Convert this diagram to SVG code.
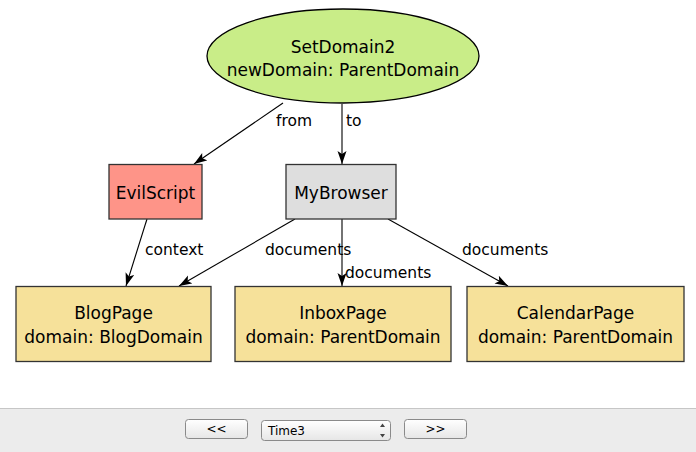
<svg xmlns="http://www.w3.org/2000/svg" width="696" height="452" viewBox="0 0 696 452">
<style>
.nt{font-family:"DejaVu Sans",sans-serif;font-size:17px;fill:#000;text-anchor:middle}
.lb{font-family:"DejaVu Sans",sans-serif;font-size:15.5px;fill:#000}
.box{stroke:#333;stroke-width:1.3}
.page{fill:#f6e19a}
.edge{stroke:#000;stroke-width:1.1;fill:none;marker-end:url(#arr)}
.btn{fill:url(#bg);stroke:#8a8a8a;stroke-width:1}
.ui{font-family:"DejaVu Sans",sans-serif;font-size:12px;fill:#000}
</style>
<defs>
<marker id="arr" markerUnits="userSpaceOnUse" markerWidth="14" markerHeight="10" refX="13" refY="4.5" orient="auto">
<path d="M0,0 L13,4.5 L0,9 L3,4.5 z" fill="#000"/>
</marker>
<linearGradient id="bg" x1="0" y1="0" x2="0" y2="1">
<stop offset="0" stop-color="#ffffff"/>
<stop offset="1" stop-color="#e6e6e6"/>
</linearGradient>
</defs>
<rect x="0" y="0" width="696" height="452" fill="#fff"/>
<g id="connectors">
<line class="edge" x1="283" y1="103" x2="194" y2="164"/>
<text class="lb" x="276" y="126">from</text>
<line class="edge" x1="342" y1="104" x2="342" y2="164"/>
<text class="lb" x="346" y="126">to</text>
<line class="edge" x1="147" y1="219" x2="126" y2="286"/>
<text class="lb" x="145" y="255">context</text>
<line class="edge" x1="295" y1="219" x2="179" y2="286"/>
<text class="lb" x="265" y="255">documents</text>
<line class="edge" x1="342" y1="219" x2="342" y2="286"/>
<text class="lb" x="345" y="278">documents</text>
<line class="edge" x1="388" y1="219" x2="508" y2="286"/>
<text class="lb" x="462" y="255">documents</text>
</g>
<g id="SetDomain2">
<ellipse cx="343" cy="56" rx="136" ry="47" fill="#c9ed88" stroke="#000" stroke-width="1.3"/>
<text class="nt" x="343" y="53">SetDomain2</text>
<text class="nt" x="343" y="76">newDomain: ParentDomain</text>
</g>
<g id="EvilScript">
<rect class="box" x="109" y="164.5" width="93" height="54.5" fill="#fe9488"/>
<text class="nt" x="155.5" y="199">EvilScript</text>
</g>
<g id="MyBrowser">
<rect class="box" x="286" y="164.5" width="110" height="54.5" fill="#dedede"/>
<text class="nt" x="341" y="199">MyBrowser</text>
</g>
<g id="BlogPage">
<rect class="box page" x="16" y="286.5" width="195" height="75"/>
<text class="nt" x="113.5" y="319">BlogPage</text>
<text class="nt" x="113.5" y="343">domain: BlogDomain</text>
</g>
<g id="InboxPage">
<rect class="box page" x="235" y="286.5" width="216" height="75"/>
<text class="nt" x="343" y="319">InboxPage</text>
<text class="nt" x="343" y="343">domain: ParentDomain</text>
</g>
<g id="CalendarPage">
<rect class="box page" x="467" y="286.5" width="217" height="75"/>
<text class="nt" x="575.5" y="319">CalendarPage</text>
<text class="nt" x="575.5" y="343">domain: ParentDomain</text>
</g>
<g id="toolbar">
<rect x="0" y="408" width="696" height="44" fill="#ececec"/>
<line x1="0" y1="408.5" x2="696" y2="408.5" stroke="#c6c6c6" stroke-width="1"/>
<rect class="btn" x="185.5" y="419.5" width="62" height="19" rx="3"/>
<text class="ui" x="216.5" y="433" text-anchor="middle">&lt;&lt;</text>
<rect class="btn" x="261.5" y="420.5" width="129" height="20" rx="3"/>
<text class="ui" x="268" y="435">Time3</text>
<path d="M380,427 L382.5,423.5 L385,427 z M380,434 L382.5,437.5 L385,434 z" fill="#444"/>
<rect class="btn" x="404.5" y="419.5" width="62" height="19" rx="3"/>
<text class="ui" x="435.5" y="433" text-anchor="middle">&gt;&gt;</text>
</g>
</svg>
